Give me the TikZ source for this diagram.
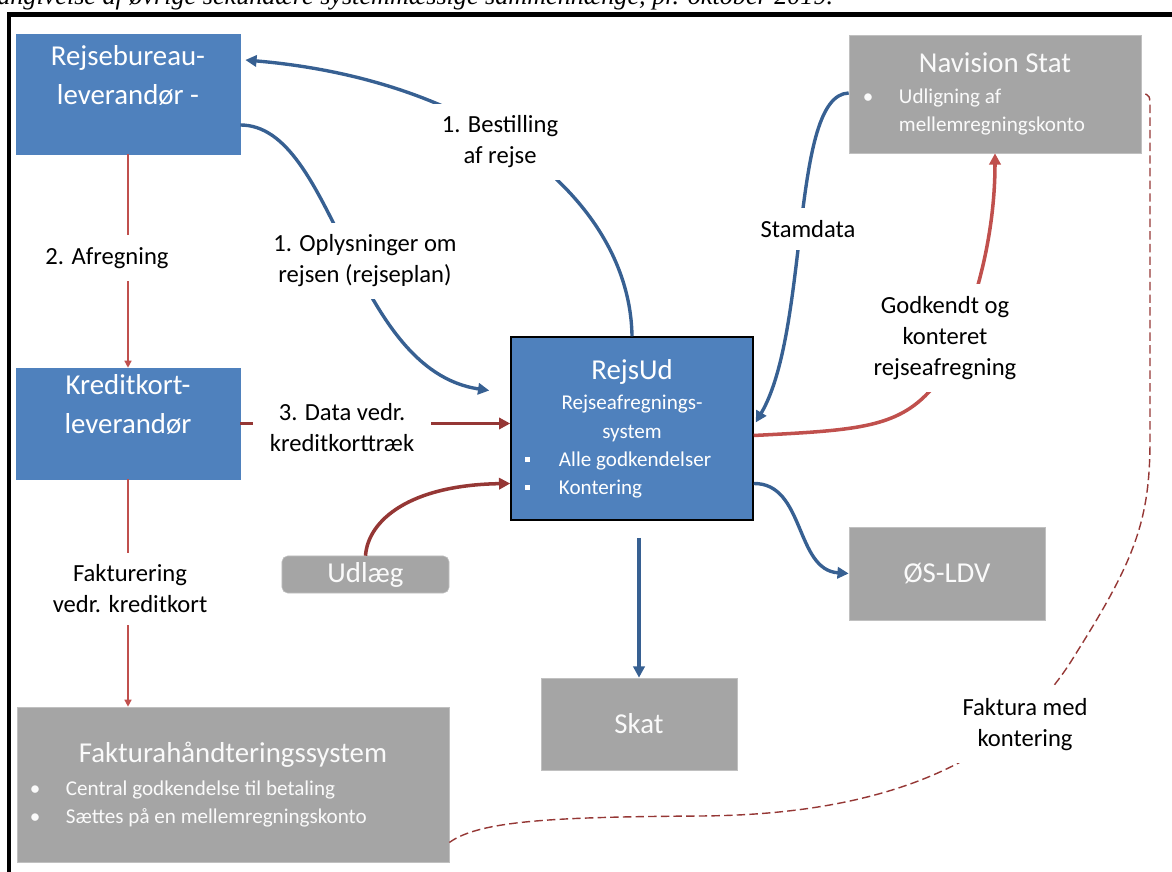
\documentclass[tikz,border=0pt]{standalone}
\usepackage{fontspec}
\setmainfont{Carlito}
\newfontfamily\capfont{Liberation Serif}
\usetikzlibrary{arrows.meta,calc}

\definecolor{boxblue}{HTML}{4F81BD}
\definecolor{boxgrey}{HTML}{A5A5A5}
\definecolor{lineblue}{HTML}{376092}
\definecolor{linered}{HTML}{C0504D}
\definecolor{darkred}{HTML}{953735}

\newcommand{\ttlfont}{\fontsize{20.5}{27.5}\selectfont}
\newcommand{\lblfont}{\fontsize{17.5}{22}\selectfont}
\newcommand{\smlfont}{\fontsize{15}{20}\selectfont}
\newcommand{\sqitem}[2]{\makebox[#1][l]{\makebox[0.85cm][l]{\raisebox{3pt}{\rule{3.5pt}{3.5pt}}}#2}}
\newcommand{\dotitem}[2]{\makebox[#1][l]{\makebox[0.9cm][l]{\textbullet}#2}}
\newcommand{\hangline}[2]{\makebox[#1][l]{\hspace{0.9cm}#2}}

\begin{document}
\begin{tikzpicture}[x=0.025cm, y=-0.025cm]
	\tikzstyle{bluebox}=[rectangle, fill=boxblue, draw=boxblue, text=white, inner sep=0pt, align=center, font=\ttlfont]
	\tikzstyle{greybox}=[rectangle, fill=boxgrey, draw=boxgrey!70!white, text=white!95!boxgrey, inner sep=0pt, align=center, font=\ttlfont]
	\tikzstyle{lbl}=[fill=white, inner sep=0.3cm, align=center, font=\lblfont]
	\tikzstyle{blueflow}=[draw=lineblue, line width=2.4pt, -{Triangle[length=8pt,width=8pt]}]
	\tikzstyle{thinflow}=[draw=linered, line width=1pt, -{Triangle[length=5pt,width=5pt]}]
	\tikzstyle{redflow}=[draw=darkred, line width=2.5pt, -{Triangle[length=8pt,width=8pt]}]
	\tikzstyle{approved}=[draw=linered, line width=2.5pt, -{Triangle[length=8pt,width=8pt]}]
	\tikzstyle{invoice}=[draw=darkred, line width=1pt, dash pattern=on 6pt off 3pt]

	\useasboundingbox (0, 0) rectangle (1172, 872);
	\clip (0, 0) rectangle (1172, 872);

	% caption and frame
	\node[anchor=base west, inner sep=0pt, font=\capfont\itshape\fontsize{18.6}{22}\selectfont] at (-3, 5) (caption) {angivelse af øvrige sekundære systemmæssige sammenhænge, pr. oktober 2019.};
	\draw[line width=3pt] (9, 900) -- (9, 14.5) -- (1200, 14.5);

	% systems
	\node[bluebox, minimum width=5.6cm, minimum height=3cm] at (128, 94) (rb) {Rejsebureau-\\leverandør -\\~};
	\node[bluebox, minimum width=5.6cm, minimum height=2.775cm] at (128, 423.5) (kk) {Kreditkort-\\leverandør\\~};
	\node[greybox, font=\smlfont, minimum width=10.8cm, minimum height=3.875cm] at (233, 784.5) (fa) {{\ttlfont Fakturahåndteringssystem}\\[3pt]
		\dotitem{10.15cm}{Central godkendelse til betaling}\\
		\dotitem{10.15cm}{Sættes på en mellemregningskonto}};
	\node[bluebox, draw=black, line width=1pt, font=\smlfont, minimum width=6.05cm, minimum height=4.575cm] at (632, 428.5) (ru) {{\ttlfont RejsUd}\\[2pt]
		Rejseafregnings-\\ system\\
		\sqitem{5.35cm}{Alle godkendelser}\\
		\sqitem{5.35cm}{Kontering}};
	\node[greybox, font=\smlfont, minimum width=7.3cm, minimum height=2.95cm] at (995, 94) (nav) {{\ttlfont Navision Stat}\\[2pt]
		\dotitem{6.6cm}{Udligning af}\\
		\hangline{6.6cm}{mellemregningskonto}};
	\node[greybox, minimum width=4.9cm, minimum height=2.325cm] at (947, 573.5) (ldv) {ØS-LDV};
	\node[greybox, minimum width=4.9cm, minimum height=2.3cm] at (639, 724) (skat) {Skat};
	\node[greybox, rounded corners=4pt, minimum width=4.175cm, minimum height=0.925cm] at (365.5, 574.5) (udl) {Udlæg};

	% flows
	\draw[blueflow] (ru.north) .. controls (630, 200) and (480, 80) .. ($(rb.east)+(5,-34)$);
	\draw[blueflow] ($(rb.east)+(0,31)$) .. controls (335, 125) and (350, 370) .. ($(ru.west)+(-21,-38)$);
	\draw[thinflow] (rb.south) -- (kk.north);
	\draw[redflow] (kk.east) -- (kk.east -| ru.west);
	\draw[thinflow] (kk.south) -- (kk.south |- fa.north);
	\draw[redflow] (udl.north) .. controls (368, 520) and (410, 485) .. ($(ru.west)+(0,55)$);
	\draw[blueflow] ($(nav.west)+(0,-1)$) .. controls (790, 95) and (810, 330) .. ($(ru.east)+(2,-6)$);
	\draw[approved] ($(ru.east)+(0,7)$) .. controls (860, 430) and (900, 428) .. (935, 385) .. controls (960, 350) and (995, 260) .. (nav.south);
	\draw[blueflow] ($(ru.east)+(0,55)$) .. controls (805, 483) and (795, 570) .. (ldv.west);
	\draw[blueflow, shorten <=0.43cm] (skat.north |- ru.south) -- (skat.north);
	\draw[invoice] ($(fa.east)+(0,58)$) .. controls (480, 820) and (560, 817) .. (700, 816)
		.. controls (850, 815) and (1000, 780) .. (1075, 655)
		.. controls (1135, 560) and (1150, 520) .. (1150, 440) -- (1150, 110)
		.. controls (1150, 95) .. ($(nav.east)+(0,-1)$);

	% labels
	\node[lbl] at (500, 142) (bestil) {1. Bestilling\\af rejse};
	\node[lbl] at (107, 258) (afreg) {2. Afregning};
	\node[lbl] at (365, 261) (oplys) {1. Oplysninger om\\rejsen (rejseplan)};
	\node[lbl] at (808, 229) (stam) {Stamdata};
	\node[lbl] at (945, 338) (godk) {Godkendt og\\konteret\\rejseafregning};
	\node[lbl, inner xsep=0.42cm] at (342, 428) (kdata) {3. Data vedr.\\kreditkorttræk};
	\node[lbl] at (130, 589) (fakt) {Fakturering\\vedr. kreditkort};
	\node[lbl] at (1025, 725) (fakmed) {Faktura med\\kontering};
\end{tikzpicture}
\end{document}
